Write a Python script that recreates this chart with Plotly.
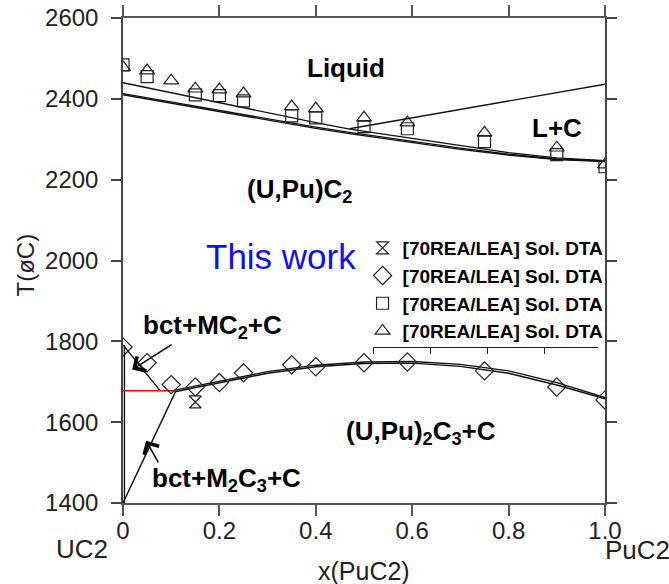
import plotly.graph_objects as go

# ---------------- data ----------------
x_top = [0.0, 0.1, 0.2, 0.3, 0.4, 0.47, 0.6, 0.7, 0.8, 0.9, 1.0]
liquidus_T = [2440, 2415, 2390, 2365, 2341, 2325, 2302, 2284, 2267, 2254, 2247]
solidus1_T = [2413, 2392, 2371, 2350, 2330, 2317, 2294, 2278, 2263, 2251, 2246]
solidus2_T = [2410, 2389, 2368, 2347, 2327, 2314, 2291, 2275, 2261, 2250, 2245]

x_lc = [0.47, 1.0]
lc_T = [2326, 2436]

x_low = [0.11, 0.2, 0.3, 0.4, 0.5, 0.6, 0.7, 0.8, 0.9, 1.0]
m2c3_upper_T = [1680, 1702, 1725, 1741, 1749, 1750, 1743, 1727, 1698, 1661]
m2c3_lower_T = [1676, 1698, 1721, 1737, 1745, 1746, 1738, 1721, 1692, 1658]

x_red = [0.0, 0.11]
red_T = [1678, 1678]

x_bct_mc2 = [0.0, 0.077]
bct_mc2_T = [1791, 1678]

x_bct_m2c3 = [0.11, 0.0]
bct_m2c3_T = [1678, 1400]

x_edge = [0.003, 0.003]
edge_T = [1791, 1400]

# experimental points [70REA/LEA]
hour_x = [0.15]
hour_T = [1650]

diam_x = [0.0, 0.05, 0.1, 0.15, 0.2, 0.25, 0.35, 0.4, 0.5, 0.59, 0.75, 0.9, 1.0]
diam_T = [1786, 1747, 1693, 1687, 1698, 1722, 1742, 1737, 1747, 1749, 1727, 1687, 1655]

sq_x = [0.0, 0.05, 0.15, 0.2, 0.25, 0.35, 0.4, 0.5, 0.59, 0.75, 0.9, 1.0]
sq_T = [2484, 2455, 2410, 2408, 2395, 2358, 2353, 2331, 2326, 2294, 2262, 2232]

tri_x = [0.0, 0.05, 0.1, 0.15, 0.2, 0.25, 0.35, 0.4, 0.5, 0.59, 0.75, 0.9, 1.0]
tri_T = [2478, 2470, 2445, 2425, 2423, 2413, 2381, 2376, 2353, 2341, 2316, 2279, 2237]

legend_name = "[70REA/LEA] Sol. DTA"

x_ticks = [0, 0.2, 0.4, 0.6, 0.8, 1.0]
x_ticktext = ["0", "0.2", "0.4", "0.6", "0.8", "1.0"]
y_ticks = [1400, 1600, 1800, 2000, 2200, 2400, 2600]

# small inset axis under the legend
inset_ticks = [0, 1, 2, 3]

FONT = "Liberation Sans, Arial, Helvetica, sans-serif"

fig = go.Figure()

for xs, ys in [(x_top, liquidus_T), (x_top, solidus1_T), (x_top, solidus2_T),
               (x_lc, lc_T), (x_low, m2c3_upper_T), (x_low, m2c3_lower_T),
               (x_bct_mc2, bct_mc2_T), (x_bct_m2c3, bct_m2c3_T), (x_edge, edge_T)]:
    fig.add_trace(go.Scatter(x=xs, y=ys, mode="lines", line=dict(color="#111", width=1.4),
                             showlegend=False, hoverinfo="skip"))

fig.add_trace(go.Scatter(x=x_red, y=red_T, mode="lines", line=dict(color="red", width=1.5),
                         showlegend=False, hoverinfo="skip"))

mk_line = dict(color="#222", width=1.2)
fig.add_trace(go.Scatter(x=hour_x, y=hour_T, mode="markers", name=legend_name,
                         marker=dict(symbol="hourglass-open", size=12, color="#222", line=mk_line)))
fig.add_trace(go.Scatter(x=diam_x, y=diam_T, mode="markers", name=legend_name,
                         marker=dict(symbol="diamond-open", size=14, color="#222", line=mk_line)))
fig.add_trace(go.Scatter(x=sq_x, y=sq_T, mode="markers", name=legend_name,
                         marker=dict(symbol="square-open", size=12, color="#222", line=mk_line)))
fig.add_trace(go.Scatter(x=tri_x, y=tri_T, mode="markers", name=legend_name,
                         marker=dict(symbol="triangle-up-open", size=13, color="#222", line=mk_line)))

# invisible trace so the inset axis is drawn
fig.add_trace(go.Scatter(x=[inset_ticks[0]], y=[1400], xaxis="x2", yaxis="y", mode="markers",
                         marker=dict(opacity=0), showlegend=False, hoverinfo="skip"))

bold = dict(family=FONT, size=26, color="black", weight="bold")
labels = [
    ("Liquid", 0.463, 2477),
    ("L+C", 0.90, 2328),
    ("(U,Pu)C<sub>2</sub>", 0.367, 2172),
    ("bct+MC<sub>2</sub>+C", 0.185, 1836),
    ("(U,Pu)<sub>2</sub>C<sub>3</sub>+C", 0.618, 1574),
    ("bct+M<sub>2</sub>C<sub>3</sub>+C", 0.214, 1457),
]
for txt, xx, yy in labels:
    fig.add_annotation(x=xx, y=yy, text=txt, showarrow=False, font=bold,
                       xanchor="center", yanchor="middle")

fig.add_annotation(x=0.328, y=2010, text="This work", showarrow=False,
                   xanchor="center", yanchor="middle",
                   font=dict(family=FONT, size=35, color="#1010EE"))

# arrows
fig.add_annotation(x=0.019, y=1730, ax=0.104, ay=1794, axref="x", ayref="y",
                   text="", showarrow=True, arrowhead=4, arrowsize=2.2, arrowwidth=1.5,
                   arrowcolor="black")
fig.add_annotation(x=0.048, y=1554, ax=0.075, ay=1497, axref="x", ayref="y",
                   text="", showarrow=True, arrowhead=4, arrowsize=2.2, arrowwidth=1.5,
                   arrowcolor="black")

# axis end labels / titles
axis_txt = dict(family=FONT, size=26, color="#222")
fig.add_annotation(xref="paper", yref="paper", x=-0.085, y=-0.095, text="UC2",
                   xanchor="center", yanchor="middle", showarrow=False, font=axis_txt)
fig.add_annotation(xref="paper", yref="paper", x=1.068, y=-0.097, text="PuC2",
                   xanchor="center", yanchor="middle", showarrow=False, font=axis_txt)
fig.add_annotation(xref="paper", yref="paper", x=0.5, y=-0.14, text="x(PuC2)",
                   xanchor="center", yanchor="middle", showarrow=False,
                   font=dict(family=FONT, size=25, color="#222"))
fig.add_annotation(xref="paper", yref="paper", x=-0.203, y=0.49, text="T(øC)", textangle=-90,
                   xanchor="center", yanchor="middle", showarrow=False,
                   font=dict(family=FONT, size=24, color="#222"))

fig.update_layout(
    width=669, height=584,
    margin=dict(l=123, r=64, t=18, b=81, autoexpand=False),
    paper_bgcolor="white", plot_bgcolor="rgba(0,0,0,0)",
    showlegend=True,
    legend=dict(x=0.497, y=0.565, xanchor="left", yanchor="top",
                bgcolor="rgba(0,0,0,0)", font=dict(family=FONT, size=19, color="black", weight="bold"),
                itemwidth=30, tracegroupgap=0),
    xaxis=dict(range=[0, 1], tickvals=x_ticks, ticktext=x_ticktext, ticks="outside", ticklen=11,
               tickcolor="#555", tickwidth=1.5, showline=True, linecolor="#555", linewidth=1.5,
               mirror="ticks", showgrid=False, zeroline=False, automargin=False,
               tickfont=dict(family=FONT, size=24, color="#222"), ticklabelstandoff=-6),
    yaxis=dict(range=[1400, 2600], tickvals=y_ticks, ticks="outside", ticklen=10,
               tickcolor="#444", tickwidth=1.5, showline=True, linecolor="#444", linewidth=1.5,
               mirror="ticks", showgrid=False, zeroline=False, automargin=False,
               tickfont=dict(family=FONT, size=24, color="#222"), ticklabelstandoff=8),
    xaxis2=dict(domain=[0.519, 0.985], anchor="free", position=0.3216, range=[0, 3.93],
                tickvals=inset_ticks, ticks="outside", ticklen=6, tickcolor="#222", tickwidth=1.3,
                showline=True, linecolor="#222", linewidth=1.3, showticklabels=False,
                showgrid=False, zeroline=False, automargin=False, fixedrange=True),
)

fig.write_html("out.html")
